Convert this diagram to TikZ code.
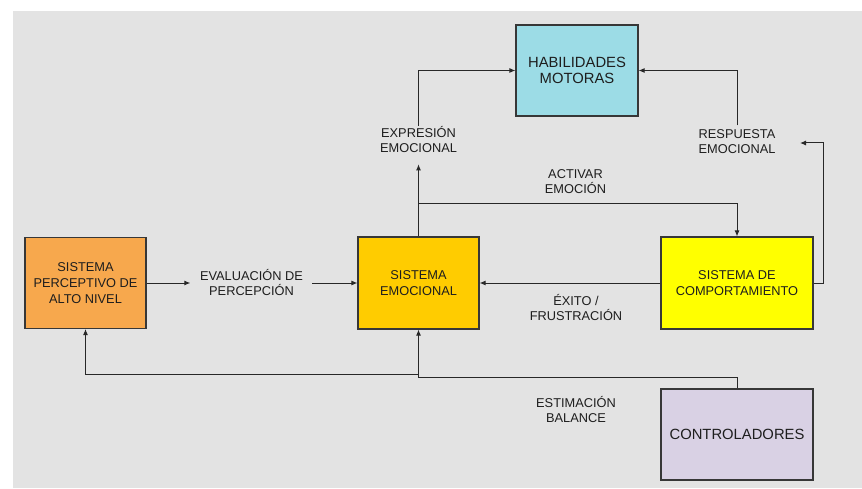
\documentclass[tikz,border=0pt]{standalone}
\usepackage{fontspec}
\setmainfont{Liberation Sans}
\usetikzlibrary{arrows.meta}
\definecolor{bggray}{RGB}{227,227,227}
\definecolor{boxline}{RGB}{55,55,55}
\definecolor{linecol}{RGB}{40,40,40}
\definecolor{txt}{RGB}{30,30,30}
\definecolor{perccol}{RGB}{247,168,77}
\definecolor{emocol}{RGB}{255,204,0}
\definecolor{compcol}{RGB}{255,255,0}
\definecolor{habcol}{RGB}{156,220,230}
\definecolor{ctrlcol}{RGB}{217,209,228}
\begin{document}
\begin{tikzpicture}[x=1pt,y=-1pt,
  box/.style={draw=boxline,line width=1.1pt,inner sep=0pt,align=center,text=txt,
    font=\fontsize{12.8}{16}\selectfont},
  bigtext/.style={font=\fontsize{14.8}{16.7}\selectfont},
  lbl/.style={inner sep=0pt,align=center,text=txt,font=\fontsize{12.8}{15}\selectfont},
  arr/.style={draw=linecol,line width=1pt,-{Latex[length=6pt,width=5pt]}}]
  % canvas
  \useasboundingbox (0,0) rectangle (862,489);
  \fill[white] (0,0) rectangle (862,489);
  \fill[bggray] (13,11) rectangle (862,488);

  % blocks
  \node[box,fill=perccol,minimum width=121pt,minimum height=91pt] (perc) at (85.5,283)
    {SISTEMA\\PERCEPTIVO DE\\ALTO NIVEL};
  \node[box,fill=emocol,minimum width=121pt,minimum height=92pt] (emo) at (418.5,283)
    {SISTEMA\\EMOCIONAL};
  \node[box,fill=compcol,minimum width=152pt,minimum height=92pt] (comp) at (737,283)
    {SISTEMA DE\\COMPORTAMIENTO};
  \node[box,bigtext,fill=habcol,minimum width=122pt,minimum height=91pt] (hab) at (577,70.5)
    {HABILIDADES\\MOTORAS};
  \node[box,bigtext,fill=ctrlcol,minimum width=152pt,minimum height=91pt] (ctrl) at (737,434.5)
    {CONTROLADORES};

  % connector labels
  \node[lbl] (eval) at (251.5,283) {EVALUACIÓN DE\\PERCEPCIÓN};
  \node[lbl] (expr) at (418.5,140) {EXPRESIÓN\\EMOCIONAL};
  \node[lbl] (resp) at (737,141.5) {RESPUESTA\\EMOCIONAL};
  \node[lbl] (act) at (575.5,182) {ACTIVAR\\EMOCIÓN};
  \node[lbl] (exito) at (576,307.5) {ÉXITO /\\FRUSTRACIÓN};
  \node[lbl] (est) at (576,409.5) {ESTIMACIÓN\\BALANCE};

  % branch points
  \coordinate (split) at (418.5,203.5);
  \coordinate (respin) at (800,143);
  \coordinate (ctrlturn) at (418.5,377);
  \coordinate (percsplit) at (418.5,374);

  % connectors
  \draw[arr,shorten >=9.5pt] (perc) -- (eval);
  \draw[arr,shorten <=9pt] (eval) -- (emo);
  \draw[arr] (comp) -- (emo);
  \draw[arr,shorten >=11pt] (emo) -- (expr);
  \draw[arr,shorten <=1pt] (expr.north) |- (hab.west);
  \draw[arr,shorten <=4pt] (resp.north) |- (hab.east);
  \draw[arr] (split) -| (comp.north);
  \draw[arr] (comp.east) -- ++(10,0) |- (respin);
  \draw[arr] (ctrl.north) |- (ctrlturn) -- (emo.south);
  \draw[arr] (percsplit) -| (perc.south);
\end{tikzpicture}
\end{document}
